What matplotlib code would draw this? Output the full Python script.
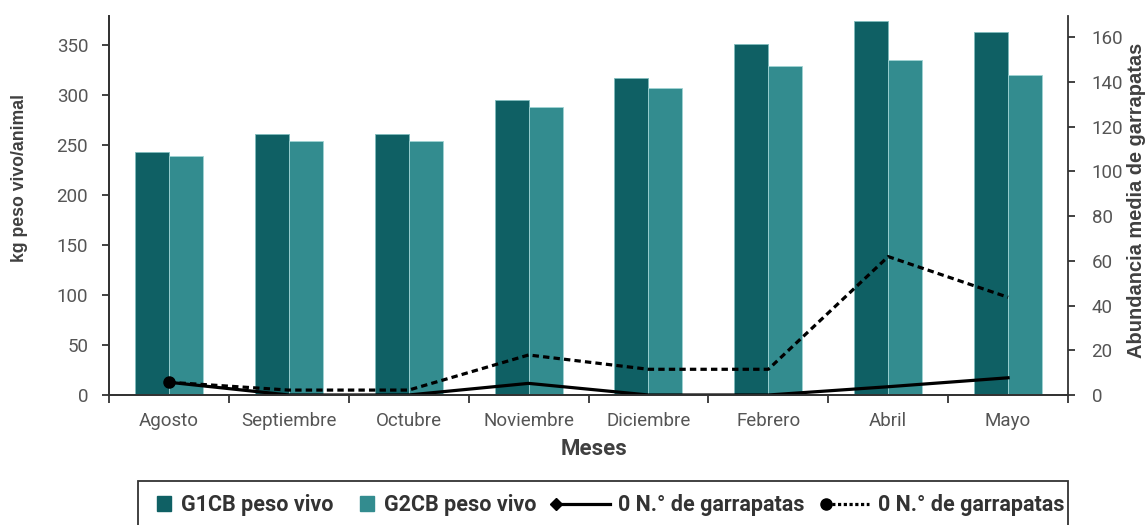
import matplotlib.pyplot as plt
from matplotlib.legend_handler import HandlerLine2D
from matplotlib.patches import Patch, Rectangle
from matplotlib.lines import Line2D

meses = ["Agosto", "Septiembre", "Octubre", "Noviembre", "Diciembre", "Febrero", "Abril", "Mayo"]
g1_peso = [243, 261, 261, 295, 317, 351, 374, 363]
g2_peso = [239, 254, 254, 288, 307, 329, 335, 320]
garr_g1 = [5.7, 0, 0, 5.2, 0, 0, 3.7, 7.7]
garr_g2 = [5.7, 2.2, 2.2, 17.9, 11.5, 11.5, 61.9, 43.7]

c1 = "#0f6064"
c2 = "#338c8f"
tick_col = "#555555"
lab_col = "#404040"
spine_col = "#333333"

plt.rcParams['font.family'] = ['Roboto', 'DejaVu Sans']


class LeftMarker(HandlerLine2D):
    # put the single legend marker at the left end of the line
    def create_artists(self, *args, **kwargs):
        arts = super().create_artists(*args, **kwargs)
        for a in arts:
            a.set_markevery([0])
        return arts


fig = plt.figure(figsize=(11.46, 5.25), dpi=100)
ax = fig.add_axes([109 / 1146, 130 / 525, 959 / 1146, 379 / 525])
ax2 = ax.twinx()

x = list(range(len(meses)))
w = 0.284
ax.bar([i - w / 2 for i in x], g1_peso, w, color=c1, edgecolor="#7fbcbc", linewidth=0.6, zorder=2)
ax.bar([i + w / 2 for i in x], g2_peso, w, color=c2, edgecolor="#a0d4d4", linewidth=0.6, zorder=2)

ax2.plot(x, garr_g1, color="black", lw=2.3, marker="D", markersize=5, markevery=[0])
ax2.plot(x, garr_g2, color="black", lw=2.3, linestyle=(0, (2, 1.3)), marker="o", markersize=8, markevery=[0])

ax.set_xlim(-0.5, len(meses) - 0.5)
ax.set_ylim(0, 379)
ax2.set_ylim(0, 169.5)
ax.set_yticks(range(0, 351, 50))
ax2.set_yticks(range(0, 161, 20))

ax.set_xticks([i - 0.5 for i in range(len(meses) + 1)])
ax.set_xticklabels([])
ax.set_xticks(x, minor=True)
ax.set_xticklabels(meses, minor=True)
ax.tick_params(axis="x", which="minor", length=0, pad=12, labelsize=13.5, labelcolor=tick_col)
ax.tick_params(axis="x", which="major", length=6, width=1.3, color=spine_col)
ax.tick_params(axis="y", length=5, width=1.3, color=spine_col, labelsize=13.5, labelcolor=tick_col, pad=10)
ax2.tick_params(axis="y", length=5, width=1.3, color=spine_col, labelsize=13.5, labelcolor=tick_col, pad=12)

for a in (ax, ax2):
    a.spines["top"].set_visible(False)
    for s in ("left", "right", "bottom"):
        a.spines[s].set_linewidth(1.3)
        a.spines[s].set_color(spine_col)
ax.spines["right"].set_visible(False)

ax.set_xlabel("Meses", fontsize=16, fontweight="bold", color=lab_col, va="center")
ax.xaxis.set_label_coords(0.506, -0.1425)
ax.set_ylabel("kg peso vivo/animal", fontsize=12.7, fontweight="bold", color=lab_col,
              family=["Liberation Sans", "DejaVu Sans"], va="center")
ax.yaxis.set_label_coords(-0.093, 0.573)
ax2.set_ylabel("Abundancia media de garrapatas", fontsize=14.4, fontweight="bold", color=lab_col,
               family=["Liberation Sans", "DejaVu Sans"], va="center")
ax2.yaxis.set_label_coords(1.071, 0.513)

# legend entries, one small legend each, inside one shared frame
ly = 1 - 505 / 525
leg_items = [
    (Patch(color=c1), "G1CB peso vivo", 157, 0.65),
    (Patch(color=c2), "G2CB peso vivo", 360, 0.65),
    (Line2D([], [], color="black", lw=2.3, marker="D", markersize=6), "0 N.° de garrapatas", 556, 2.5),
    (Line2D([], [], color="black", lw=2.3, linestyle=(0, (1, 0.8)), marker="o", markersize=8),
     "0 N.° de garrapatas", 826, 2.0),
]
for h, lab, x0, hl in leg_items:
    leg = fig.legend([h], [lab], loc="center left", bbox_to_anchor=(x0 / 1146, ly), frameon=False,
                     prop={"weight": "bold", "size": 15.5}, handlelength=hl, handleheight=0.65,
                     handletextpad=0.4 if hl > 1 else 0.47, borderpad=0, borderaxespad=0,
                     handler_map={Line2D: LeftMarker()})
    for t in leg.get_texts():
        t.set_color("#333333")

fig.patches.append(Rectangle((138 / 1146, -0.05), 930 / 1146, 0.05 + 44 / 525,
                             transform=fig.transFigure, fill=False, edgecolor=spine_col,
                             linewidth=1.3, clip_on=False))

fig.savefig("out.png", dpi=100)
